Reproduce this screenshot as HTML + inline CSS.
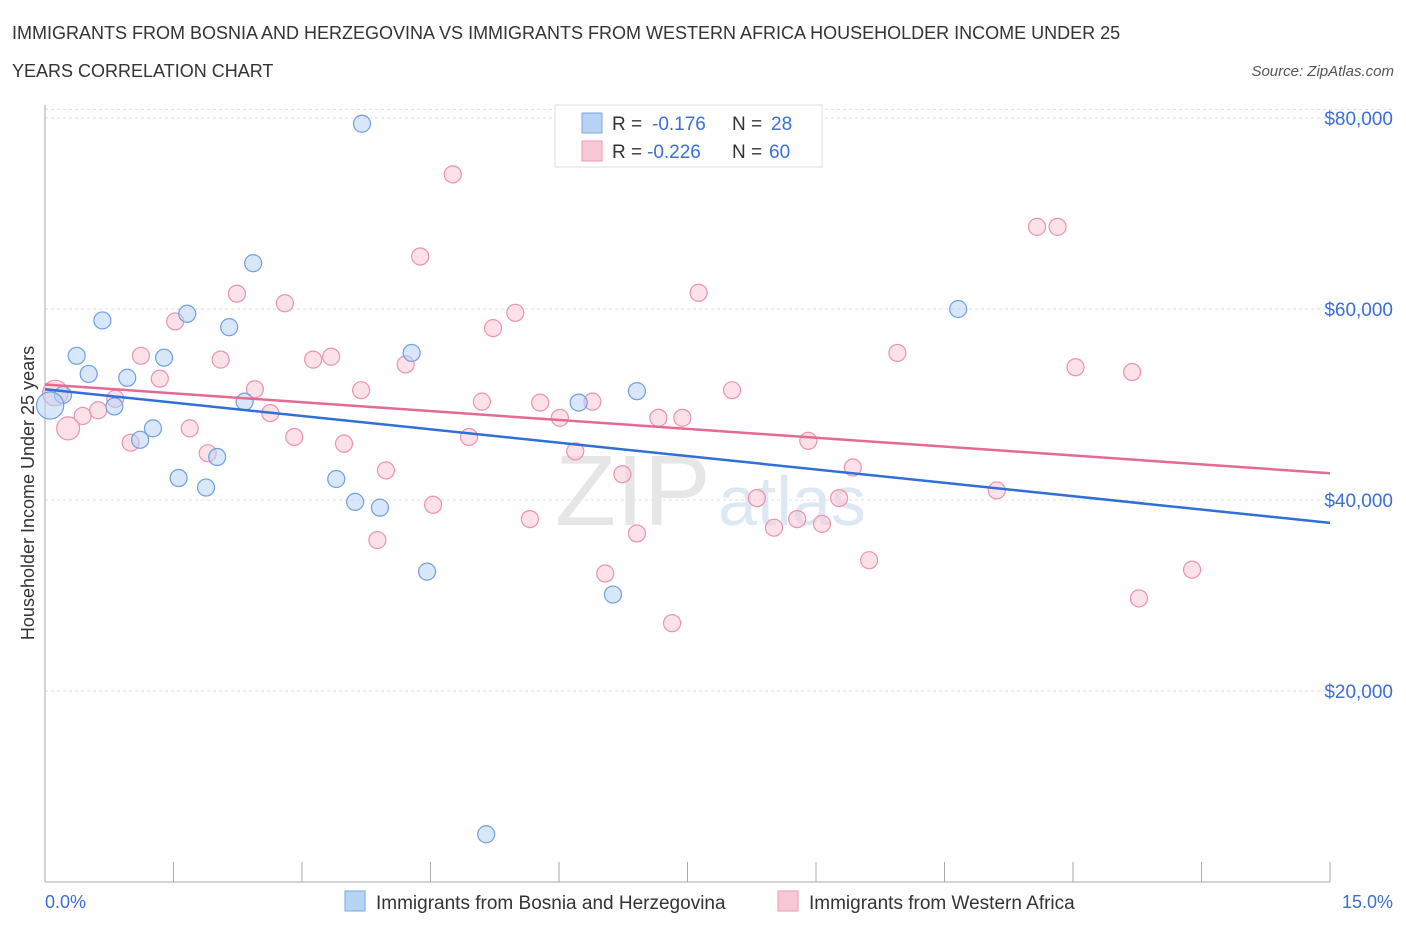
<!DOCTYPE html>
<html><head><meta charset="utf-8"><style>
body{margin:0;background:#fff;font-family:"Liberation Sans",sans-serif;}
svg text{font-family:"Liberation Sans",sans-serif;}
</style></head><body>
<svg id="chart" width="1406" height="930" xmlns="http://www.w3.org/2000/svg">
<text x="12" y="39" font-size="18" fill="#333">IMMIGRANTS FROM BOSNIA AND HERZEGOVINA VS IMMIGRANTS FROM WESTERN AFRICA HOUSEHOLDER INCOME UNDER 25</text>
<text x="12" y="77" font-size="18" fill="#333">YEARS CORRELATION CHART</text>
<text x="1394" y="76" font-size="15" fill="#555" font-style="italic" text-anchor="end">Source: ZipAtlas.com</text>
<g id="grid"></g>
<text x="555" y="525" font-size="100" fill="#e6e6e6" font-family="Liberation Serif">ZIP</text>
<text x="718" y="525" font-size="70" fill="#dde8f5">atlas</text>
<g id="axes"></g>
<g id="points"></g>
<g id="trends"></g>
<text transform="translate(34,493) rotate(-90)" font-size="18" fill="#333" text-anchor="middle">Householder Income Under 25 years</text>
<text x="45" y="908" font-size="18" fill="#3a6fd8">0.0%</text>
<text x="1393" y="908" font-size="18" fill="#3a6fd8" text-anchor="end">15.0%</text>
<g>
<rect x="555" y="105" width="267" height="62" fill="#fff" stroke="#ddd"/>
<rect x="582" y="113" width="20" height="20" fill="#b8d4f5" stroke="#7aa6e6"/>
<text x="612" y="130" font-size="19" fill="#333">R = </text><text x="652" y="130" font-size="19" fill="#3a6fd8">-0.176</text>
<text x="732" y="130" font-size="19" fill="#333">N = </text><text x="771" y="130" font-size="19" fill="#3a6fd8">28</text>
<rect x="582" y="141" width="20" height="20" fill="#f9c8d6" stroke="#ee9ab3"/>
<text x="612" y="158" font-size="19" fill="#333">R = </text><text x="647" y="158" font-size="19" fill="#3a6fd8">-0.226</text>
<text x="732" y="158" font-size="19" fill="#333">N = </text><text x="769" y="158" font-size="19" fill="#3a6fd8">60</text>
</g>
<g>
<rect x="345" y="891" width="20" height="20" fill="#b8d4f5" stroke="#7aa6e6"/>
<text x="376" y="909" font-size="19" fill="#333">Immigrants from Bosnia and Herzegovina</text>
<rect x="778" y="891" width="20" height="20" fill="#f9c8d6" stroke="#ee9ab3"/>
<text x="809" y="909" font-size="19" fill="#333">Immigrants from Western Africa</text>
</g>
</svg>
<script>
const yTicks=[20000,40000,60000,80000];
const yTickLabels=["$20,000","$40,000","$60,000","$80,000"];
const xTicks=[0,1.5,3,4.5,6,7.5,9,10.5,12,13.5,15];
const blueX=[3.70,2.43,1.66,2.15,0.67,0.37,1.39,0.51,0.96,4.28,0.21,0.06,0.81,2.33,1.26,1.11,2.01,1.56,1.88,3.40,3.62,3.91,4.46,6.23,6.91,6.63,10.66,5.15];
const blueY=[79.4,64.8,59.5,58.1,58.8,55.1,54.9,53.2,52.8,55.4,51.0,49.9,49.8,50.3,47.5,46.3,44.5,42.3,41.3,42.2,39.8,39.2,32.5,50.2,51.4,30.1,60.0,5.0];
const blueSize=[1,1,1,1,1,1,1,1,1,1,1,1.6,1,1,1,1,1,1,1,1,1,1,1,1,1,1,1,1];
const pinkX=[4.76,4.38,2.24,2.80,7.63,5.49,1.52,5.23,1.12,2.05,3.13,3.34,4.21,9.95,12.03,12.69,1.34,0.12,2.45,3.69,8.02,6.39,5.10,5.78,0.82,0.62,0.44,2.63,0.27,1.69,6.01,7.16,7.44,2.91,1.00,3.49,4.95,8.91,1.90,6.19,9.43,3.98,6.74,4.53,8.31,9.27,11.11,5.66,8.78,9.07,8.51,6.91,3.88,9.62,6.54,13.39,12.77,7.32,11.58,11.82];
const pinkY=[74.1,65.5,61.6,60.6,61.7,59.6,58.7,58.0,55.1,54.7,54.7,55.0,54.2,55.4,53.9,53.4,52.7,51.2,51.6,51.5,51.5,50.3,50.3,50.2,50.6,49.4,48.8,49.1,47.5,47.5,48.6,48.6,48.6,46.6,46.0,45.9,46.6,46.2,44.9,45.1,43.4,43.1,42.7,39.5,40.2,40.2,41.0,38.0,38.0,37.5,37.1,36.5,35.8,33.7,32.3,32.7,29.7,27.1,68.6,68.6];
const pinkSize=pinkX.map((_,i)=>i===17?1.5:(i===28?1.35:1));
const blueTrend=[51.6,37.6];
const pinkTrend=[52.1,42.8];
const X0=45,X1=1330,Y0=882,YK=191/20;
const sx=v=>X0+(v/15)*(X1-X0);
const sy=k=>Y0-k*YK;
const NS="http://www.w3.org/2000/svg";
function mk(tag,attrs,parent){const e=document.createElementNS(NS,tag);for(const k in attrs)e.setAttribute(k,attrs[k]);parent.appendChild(e);return e;}
const grid=document.getElementById('grid');
yTicks.forEach((t,i)=>{
 const l=mk('line',{x1:X0,x2:1395,y1:sy(t/1000),y2:sy(t/1000),stroke:'#ddd','stroke-dasharray':'3,3'},grid);
 
 
 const tx=mk('text',{x:1393,y:sy(t/1000)+7,'font-size':19,fill:'#3a6fd8','text-anchor':'end'},grid);
 tx.textContent=yTickLabels[i];
 
 
});
const tg=mk('line',{x1:X0,x2:1395,y1:sy(80.9),y2:sy(80.9),stroke:'#ddd','stroke-dasharray':'3,3'},grid);
const axes=document.getElementById('axes');
const ya=mk('line',{x1:X0,x2:X0,y1:105,y2:Y0,stroke:'#aaa'},axes);


const xa=mk('line',{x1:X0,x2:X1,y1:Y0,y2:Y0,stroke:'#aaa'},axes);


xTicks.forEach(t=>{
 const l=mk('line',{x1:sx(t),x2:sx(t),y1:Y0,y2:Y0-20,stroke:'#aaa'},axes);
 
 
});
const pts=document.getElementById('points');
function drawPts(xs,ys,ss,fill,stroke,name){
 xs.forEach((x,i)=>{
  const c=mk('circle',{cx:sx(x),cy:sy(ys[i]),r:8.5*ss[i],fill:fill,stroke:stroke,'stroke-width':1.2,'fill-opacity':0.55},pts);
  
  
 });
}
drawPts(pinkX,pinkY,pinkSize,'#f9c8d6','#ec92ad','point-western-africa');
drawPts(blueX,blueY,blueSize,'#b8d4f5','#6f9fe0','point-bosnia');
const tr=document.getElementById('trends');
const bl=mk('line',{x1:sx(0),y1:sy(blueTrend[0]),x2:sx(15),y2:sy(blueTrend[1]),stroke:'#2f6fd6','stroke-width':2.5},tr);


const pl=mk('line',{x1:sx(0),y1:sy(pinkTrend[0]),x2:sx(15),y2:sy(pinkTrend[1]),stroke:'#e46a92','stroke-width':2.5},tr);


</script>
</body></html>
